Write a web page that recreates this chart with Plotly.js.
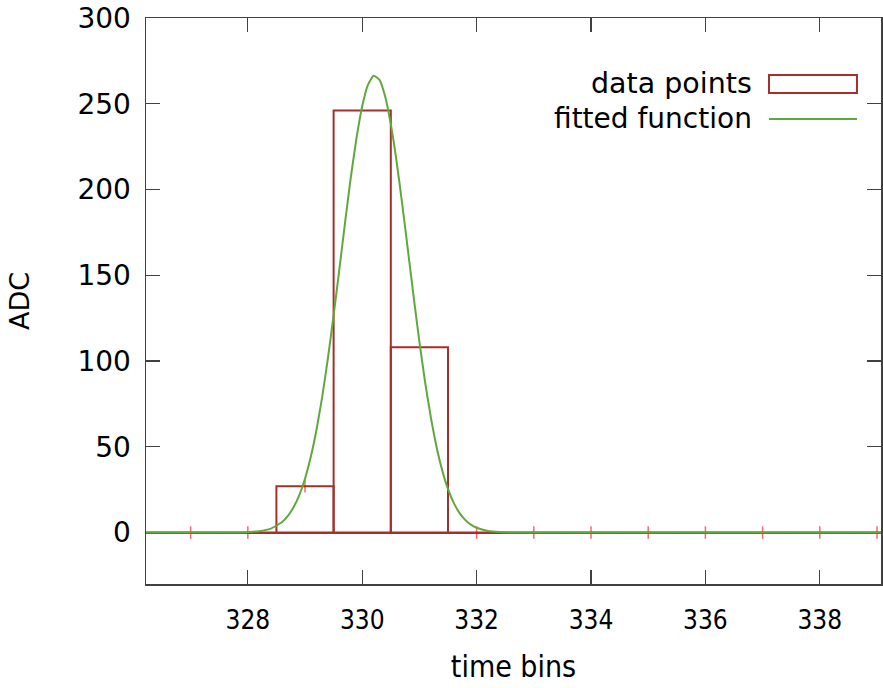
<!DOCTYPE html>
<html>
<head>
<meta charset="utf-8">
<script src="https://cdn.plot.ly/plotly-3.0.1.min.js"></script>
<style>html,body{margin:0;padding:0;background:#fff;}#chart{width:883px;height:688px;}</style>
</head>
<body>
<div id="chart"></div>
<script>
// data points (time bin centers and ADC values)
const bins = [326, 327, 328, 329, 330, 331, 332, 333, 334, 335, 336, 337, 338, 339];
const adc  = [0, 0, 0, 27, 246, 108, 0, 0, 0, 0, 0, 0, 0, 0];

// fitted function, values
const fitX = [326.2, 327.0, 327.6, 328.0, 328.2, 328.4, 328.6, 328.7, 328.8, 328.9,
              329.0, 329.1, 329.2, 329.3, 329.4, 329.5, 329.6, 329.7, 329.8, 329.9,
              330.0, 330.1, 330.2, 330.3, 330.4, 330.5, 330.6, 330.7, 330.8, 330.9,
              331.0, 331.1, 331.2, 331.3, 331.4, 331.5, 331.6, 331.7, 331.8, 331.9,
              332.0, 332.2, 332.4, 332.6, 333.0, 339.1];
const fitY = [0, 0, 0.01, 0.2, 0.8, 2.3, 6.1, 9.7, 14.7, 21.8,
              31.4, 44.0, 59.8, 79.0, 101.5, 126.6, 153.4, 180.7, 206.9, 230.0,
              248.6, 261.0, 266.3, 264.1, 254.4, 238.1, 216.6, 191.4, 164.4, 137.2,
              111.2, 87.6, 67.1, 49.9, 36.1, 25.3, 17.3, 11.5, 7.4, 4.6,
              2.8, 0.95, 0.3, 0.08, 0, 0];

const xTicks = [328, 330, 332, 334, 336, 338];
const yTicks = [0, 50, 100, 150, 200, 250, 300];

const RED = '#a3302a';
const GREEN = '#60a83c';

// point marks visible only where not hidden behind box edges in the original
const markSizes = bins.map((b, i) => (adc[i] > 100 ? 0 : 9));

const traces = [
  {
    type: 'bar', x: bins, y: adc, width: 1,
    marker: {color: 'rgba(0,0,0,0)', line: {color: RED, width: 2}},
    showlegend: false, hoverinfo: 'skip'
  },
  {
    type: 'scatter', mode: 'markers', x: bins, y: adc,
    marker: {symbol: 'line-ns', size: markSizes, color: 'rgba(255,0,0,0.85)', line: {color: 'rgba(255,0,0,0.85)', width: 1.5}},
    showlegend: false, hoverinfo: 'skip'
  },
  {
    type: 'scatter', mode: 'lines', x: fitX, y: fitY,
    line: {color: GREEN, width: 2, shape: 'spline', smoothing: 0.5},
    showlegend: false, hoverinfo: 'skip'
  }
];

const axisCommon = {
  showgrid: false, showline: true, linecolor: '#404040', linewidth: 1.5,
  mirror: 'ticks', ticks: 'inside', ticklen: 14, tickwidth: 1.3, tickcolor: '#404040',
  zeroline: false, layer: 'below traces'
};

const layout = {
  width: 883, height: 688,
  margin: {l: 146, r: 2, t: 18, b: 104},
  paper_bgcolor: '#fff', plot_bgcolor: '#fff',
  font: {family: 'DejaVu Sans', color: '#000'},
  showlegend: false,
  bargap: 0,
  xaxis: Object.assign({}, axisCommon, {
    range: [326.22, 339.07], tickmode: 'array', tickvals: xTicks,
    ticktext: xTicks.map(String),
    tickfont: {family: 'DejaVu Sans Condensed, DejaVu Sans', size: 26, color: '#000'},
    ticklabelstandoff: 12,
    title: {text: 'time bins', font: {family: 'DejaVu Sans Condensed, DejaVu Sans', size: 30, color: '#000'}, standoff: 22}
  }),
  yaxis: Object.assign({}, axisCommon, {
    range: [-30, 300], tickmode: 'array', tickvals: yTicks,
    ticktext: yTicks.map(String),
    tickfont: {family: 'DejaVu Sans', size: 28, color: '#000'},
    ticklabelstandoff: 8,
    zeroline: true, zerolinecolor: RED, zerolinewidth: 2,
    title: {text: 'ADC', font: {family: 'DejaVu Sans', size: 27, color: '#000'}, standoff: 40}
  }),
  annotations: [
    {xref: 'paper', yref: 'paper', x: 0.827, y: 0.885, xanchor: 'right', yanchor: 'middle',
     text: 'data points', showarrow: false, font: {family: 'DejaVu Sans', size: 28.5, color: '#000'}},
    {xref: 'paper', yref: 'paper', x: 0.827, y: 0.8216, xanchor: 'right', yanchor: 'middle',
     text: 'fitted function', showarrow: false, font: {family: 'DejaVu Sans', size: 28, color: '#000'}}
  ],
  shapes: [
    {type: 'rect', xref: 'paper', yref: 'paper', x0: 0.8476, x1: 0.9673, y0: 0.8675, y1: 0.8993,
     line: {color: RED, width: 2}, fillcolor: 'rgba(0,0,0,0)'},
    {type: 'line', xref: 'paper', yref: 'paper', x0: 0.8476, x1: 0.9673, y0: 0.8216, y1: 0.8216,
     line: {color: GREEN, width: 2}}
  ]
};

Plotly.newPlot('chart', traces, layout, {staticPlot: true, displayModeBar: false});
</script>
</body>
</html>
